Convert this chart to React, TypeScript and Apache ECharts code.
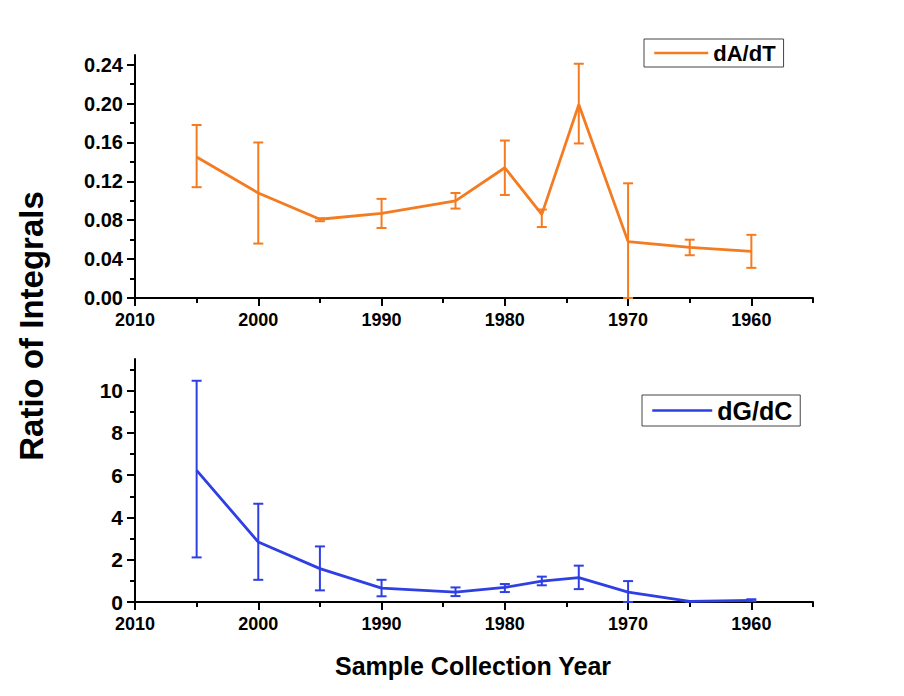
import React, { useEffect, useRef } from "react";
import * as echarts from "echarts";

const FONT = "'Liberation Sans', Arial, sans-serif";
const ORANGE = "#F47B20";
const BLUE = "#2E3FE3";

// Sample collection years
const years = [2005, 2000, 1995, 1990, 1984, 1980, 1977, 1974, 1970, 1965, 1960];

// dA/dT ratio with error bounds
const dAdT = [0.145, 0.108, 0.081, 0.087, 0.1, 0.134, 0.086, 0.199, 0.058, 0.052, 0.048];
const dAdTLow = [0.114, 0.056, 0.079, 0.072, 0.092, 0.106, 0.073, 0.159, 0.0, 0.044, 0.031];
const dAdTHigh = [0.178, 0.16, 0.082, 0.102, 0.108, 0.162, 0.091, 0.241, 0.118, 0.06, 0.065];

// dG/dC ratio with error bounds
const dGdC = [6.23, 2.84, 1.58, 0.66, 0.47, 0.69, 0.99, 1.15, 0.47, 0.03, 0.08];
const dGdCLow = [2.11, 1.05, 0.55, 0.27, 0.28, 0.47, 0.79, 0.61, 0.0, 0.02, 0.04];
const dGdCHigh = [10.47, 4.65, 2.63, 1.05, 0.69, 0.85, 1.2, 1.72, 0.99, 0.04, 0.13];

// Tick values
const xMajorTicks = [2010, 2000, 1990, 1980, 1970, 1960];
const xMinorTicks = [2005, 1995, 1985, 1975, 1965, 1955];
const topYMajor = [0, 0.04, 0.08, 0.12, 0.16, 0.2, 0.24];
const topYMinor = [0.02, 0.06, 0.1, 0.14, 0.18, 0.22];
const botYMajor = [0, 2, 4, 6, 8, 10];
const botYMinor = [1, 3, 5, 7, 9, 11];

const axisLineStyle = { color: "#000", width: 2 };

function makeErrorSeries(xi: number, yi: number, low: number[], high: number[], color: string) {
  return {
    type: "custom",
    xAxisIndex: xi,
    yAxisIndex: yi,
    z: 3,
    clip: false,
    encode: { x: 0, y: [1, 2] },
    data: years.map((y, i) => [y, low[i], high[i]]),
    renderItem: (params: any, api: any) => {
      const x = api.value(0);
      const lo = api.coord([x, api.value(1)]);
      const hi = api.coord([x, api.value(2)]);
      const hw = 5;
      const style = { stroke: color, lineWidth: 2 };
      return {
        type: "group",
        children: [
          { type: "line", shape: { x1: lo[0], y1: lo[1], x2: hi[0], y2: hi[1] }, style },
          { type: "line", shape: { x1: lo[0] - hw, y1: lo[1], x2: lo[0] + hw, y2: lo[1] }, style },
          { type: "line", shape: { x1: hi[0] - hw, y1: hi[1], x2: hi[0] + hw, y2: hi[1] }, style },
        ],
      };
    },
  };
}

function xAxes(gridIndex: number) {
  return [
    {
      type: "value",
      gridIndex,
      min: 1955,
      max: 2010,
      inverse: true,
      position: "bottom",
      axisLine: { show: true, onZero: false, lineStyle: axisLineStyle },
      axisTick: { show: true, length: 8, lineStyle: axisLineStyle, customValues: xMajorTicks },
      axisLabel: {
        customValues: xMajorTicks,
        formatter: (v: number) => String(v),
        fontSize: 18,
        fontWeight: "bold",
        color: "#000",
        fontFamily: FONT,
        margin: 13,
      },
      splitLine: { show: false },
    },
    {
      type: "value",
      gridIndex,
      min: 1955,
      max: 2010,
      inverse: true,
      position: "bottom",
      axisLine: { show: false },
      axisTick: { show: true, length: 5, lineStyle: axisLineStyle, customValues: xMinorTicks },
      axisLabel: { show: false },
      splitLine: { show: false },
    },
  ];
}

function yAxes(gridIndex: number, max: number, major: number[], minor: number[], digits: number, fs: number) {
  return [
    {
      type: "value",
      gridIndex,
      min: 0,
      max,
      position: "left",
      axisLine: { show: true, onZero: false, lineStyle: axisLineStyle },
      axisTick: { show: true, length: 8, lineStyle: axisLineStyle, customValues: major },
      axisLabel: {
        customValues: major,
        formatter: (v: number) => v.toFixed(digits),
        fontSize: fs,
        fontWeight: "bold",
        color: "#000",
        fontFamily: FONT,
        margin: 12,
      },
      splitLine: { show: false },
    },
    {
      type: "value",
      gridIndex,
      min: 0,
      max,
      position: "left",
      axisLine: { show: false },
      axisTick: { show: true, length: 5, lineStyle: axisLineStyle, customValues: minor },
      axisLabel: { show: false },
      splitLine: { show: false },
    },
  ];
}

export default function App() {
  const ref = useRef<HTMLDivElement>(null);
  useEffect(() => {
    if (!ref.current) return;
    const chart = echarts.init(ref.current, null, { renderer: "svg" });
    const legendBase = {
      itemHeight: 14,
      padding: [3, 8, 3, 9],
      borderColor: "#444",
      borderWidth: 1,
      borderRadius: 0,
      selectedMode: false,
      itemStyle: { opacity: 0 },
      lineStyle: { width: 2.5 },
    };
    const option: any = {
      animation: false,
      backgroundColor: "#fff",
      grid: [
        { left: 135, top: 55, width: 678, height: 243 },
        { left: 135, top: 359, width: 678, height: 243 },
      ],
      xAxis: [...xAxes(0), ...xAxes(1)],
      yAxis: [
        ...yAxes(0, 0.25, topYMajor, topYMinor, 2, 20),
        ...yAxes(1, 11.5, botYMajor, botYMinor, 0, 21),
      ],
      legend: [
        {
          ...legendBase,
          data: ["dA/dT"],
          left: 644,
          top: 39,
          itemWidth: 54,
          textStyle: { fontSize: 22, fontWeight: "bold", color: "#000", fontFamily: FONT },
        },
        {
          ...legendBase,
          data: ["dG/dC"],
          left: 642,
          top: 395,
          itemWidth: 60,
          textStyle: { fontSize: 25, fontWeight: "bold", color: "#000", fontFamily: FONT },
        },
      ],
      graphic: [
        {
          type: "text",
          x: 31,
          y: 326,
          rotation: Math.PI / 2,
          style: {
            text: "Ratio of Integrals",
            fontSize: 33,
            fontWeight: "bold",
            fontFamily: FONT,
            fill: "#000",
            textAlign: "center",
            textVerticalAlign: "middle",
          },
        },
        {
          type: "text",
          x: 473,
          y: 666,
          style: {
            text: "Sample Collection Year",
            fontSize: 25,
            fontWeight: "bold",
            fontFamily: FONT,
            fill: "#000",
            textAlign: "center",
            textVerticalAlign: "middle",
          },
        },
      ],
      series: [
        {
          name: "dA/dT",
          type: "line",
          xAxisIndex: 0,
          yAxisIndex: 0,
          symbol: "none",
          z: 4,
          lineStyle: { color: ORANGE, width: 2.8 },
          itemStyle: { color: ORANGE },
          data: years.map((y, i) => [y, dAdT[i]]),
        },
        makeErrorSeries(0, 0, dAdTLow, dAdTHigh, ORANGE),
        {
          name: "dG/dC",
          type: "line",
          xAxisIndex: 2,
          yAxisIndex: 2,
          symbol: "none",
          z: 4,
          lineStyle: { color: BLUE, width: 2.8 },
          itemStyle: { color: BLUE },
          data: years.map((y, i) => [y, dGdC[i]]),
        },
        makeErrorSeries(2, 2, dGdCLow, dGdCHigh, BLUE),
      ],
    };
    chart.setOption(option);
    return () => chart.dispose();
  }, []);
  return <div ref={ref} style={{ width: 904, height: 696, margin: -8 }} />;
}
